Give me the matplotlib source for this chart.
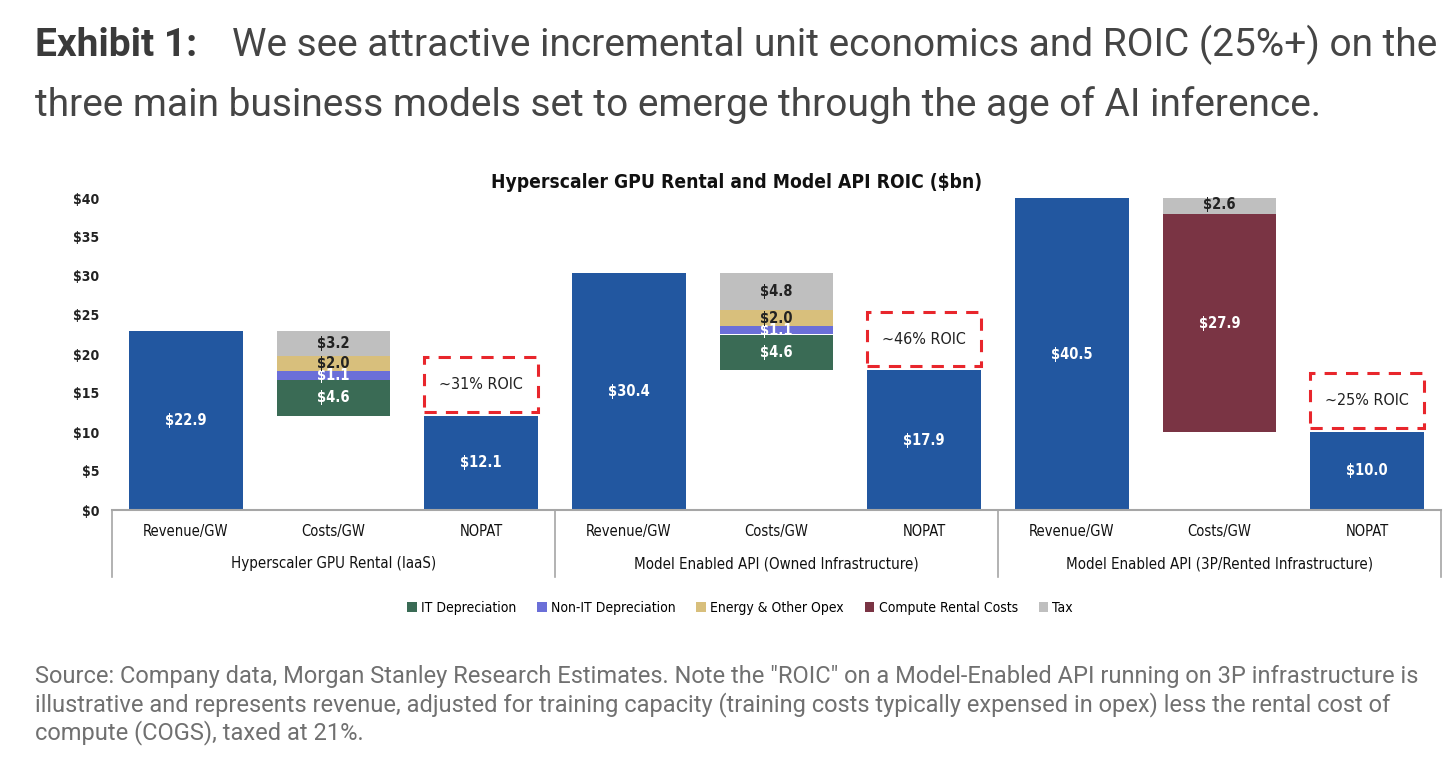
import matplotlib
matplotlib.use("Agg")
import matplotlib.pyplot as plt
from matplotlib.patches import Rectangle, Patch
import matplotlib.transforms as mtransforms

# data
groups = ["Hyperscaler GPU Rental (IaaS)",
          "Model Enabled API (Owned Infrastructure)",
          "Model Enabled API (3P/Rented Infrastructure)"]
bar_names = ["Revenue/GW", "Costs/GW", "NOPAT"]
revenue = [22.9, 30.4, 40.5]
nopat = [12.1, 17.9, 10.0]
it_dep = [4.6, 4.6, 0.0]
non_it_dep = [1.1, 1.1, 0.0]
energy = [2.0, 2.0, 0.0]
compute_rental = [0.0, 0.0, 27.9]
tax = [3.2, 4.8, 2.6]
roic_labels = ["~31% ROIC", "~46% ROIC", "~25% ROIC"]
yticks = [0, 5, 10, 15, 20, 25, 30, 35, 40]

BLUE = "#2257a0"
cost_parts = [
    ("IT Depreciation", it_dep, "#3a6b55", "white"),
    ("Non-IT Depreciation", non_it_dep, "#6b6fd8", "white"),
    ("Energy & Other Opex", energy, "#d8bf7c", "#222222"),
    ("Compute Rental Costs", compute_rental, "#7a3444", "white"),
    ("Tax", tax, "#bfbfbf", "#222222"),
]

plt.rcParams["font.family"] = ["DejaVu Sans"]
plt.rcParams["font.stretch"] = "condensed"
ROBOTO = ["Roboto", "DejaVu Sans"]

fig = plt.figure(figsize=(14.56, 7.6), dpi=100)
ax = fig.add_axes([112 / 1456, 1 - 510 / 760, 1329 / 1456, 312 / 760])

w = 0.77
for g in range(3):
    xr, xc, xn = 3 * g, 3 * g + 1, 3 * g + 2
    ax.bar(xr, revenue[g], width=w, color=BLUE)
    ax.text(xr, revenue[g] / 2 if revenue[g] < 40 else 20, f"${revenue[g]:.1f}",
            ha="center", va="center", color="white", fontsize=10.5, fontweight="bold")
    ax.bar(xn, nopat[g], width=w, color=BLUE)
    ax.text(xn, nopat[g] / 2, f"${nopat[g]:.1f}", ha="center", va="center",
            color="white", fontsize=10.5, fontweight="bold")
    bottom = nopat[g]
    for name, vals, col, tcol in cost_parts:
        v = vals[g]
        if v <= 0:
            continue
        ax.bar(xc, v, bottom=bottom, width=w, color=col)
        ax.text(xc, bottom + v / 2, f"${v:.1f}", ha="center", va="center",
                color=tcol, fontsize=10.5, fontweight="bold")
        bottom += v
    # dashed ROIC callout above NOPAT bar
    ax.add_patch(Rectangle((xn - w / 2, nopat[g] + 0.5), w, 7.0, fill=False,
                           edgecolor="#e8262c", linestyle=(0, (4, 3)), linewidth=2.2))
    ax.text(xn, nopat[g] + 4.0, roic_labels[g], ha="center", va="center",
            color="#222222", fontsize=11.5)

ax.set_xlim(-0.5, 8.5)
ax.set_ylim(0, 40)
ax.set_yticks(yticks)
ax.set_yticklabels([f"${t}" for t in yticks], fontsize=10, fontweight="bold", color="#222222")
ax.tick_params(axis="y", length=0, pad=9)
ax.set_xticks([])
for s in ["top", "right", "left"]:
    ax.spines[s].set_visible(False)
ax.spines["bottom"].set_color("#a6a6a6")
ax.spines["bottom"].set_linewidth(1.5)

# two-level category axis
trans = mtransforms.blended_transform_factory(ax.transData, ax.transAxes)
for xv in [-0.5, 2.5, 5.5, 8.5]:
    ax.plot([xv, xv], [0, -0.215], transform=trans, color="#a6a6a6",
            linewidth=1.2, clip_on=False)
for i in range(9):
    ax.text(i, -0.07, bar_names[i % 3], transform=trans, ha="center", va="center",
            fontsize=10.5, color="#111111")
for g in range(3):
    ax.text(3 * g + 1, -0.173, groups[g], transform=trans, ha="center", va="center",
            fontsize=10.8, color="#111111")

fig.text(737 / 1456, 1 - 183 / 760, "Hyperscaler GPU Rental and Model API ROIC ($bn)",
         ha="center", va="center", fontsize=13.8, fontweight="bold", color="#111111")

handles = [Patch(facecolor=c, label=n) for n, _, c, _ in cost_parts]
fig.legend(handles=handles, loc="center", bbox_to_anchor=(740 / 1456, 1 - 608 / 760),
           ncol=5, frameon=False, fontsize=10, handlelength=0.7, handleheight=0.7,
           handletextpad=0.3, columnspacing=1.5)

# header and footnote
fig.text(35 / 1456, 1 - 45 / 760, "Exhibit 1:", ha="left", va="center",
         fontsize=28, fontweight="bold", color="#3a3a3a", family=ROBOTO, fontstretch="normal")
fig.text(232 / 1456, 1 - 45 / 760,
         "We see attractive incremental unit economics and ROIC (25%+) on the",
         ha="left", va="center", fontsize=28, color="#454545",
         family=ROBOTO, fontstretch="normal")
fig.text(35 / 1456, 1 - 105 / 760,
         "three main business models set to emerge through the age of AI inference.",
         ha="left", va="center", fontsize=28, color="#454545",
         family=ROBOTO, fontstretch="normal")

foot = ['Source: Company data, Morgan Stanley Research Estimates. Note the "ROIC" on a Model-Enabled API running on 3P infrastructure is',
        "illustrative and represents revenue, adjusted for training capacity (training costs typically expensed in opex) less the rental cost of",
        "compute (COGS), taxed at 21%."]
for k, line in enumerate(foot):
    fig.text(35 / 1456, 1 - (676 + 28.5 * k) / 760, line, ha="left", va="center",
             fontsize=17, color="#707070", family=ROBOTO, fontstretch="normal")

fig.savefig("out.png", dpi=100)
